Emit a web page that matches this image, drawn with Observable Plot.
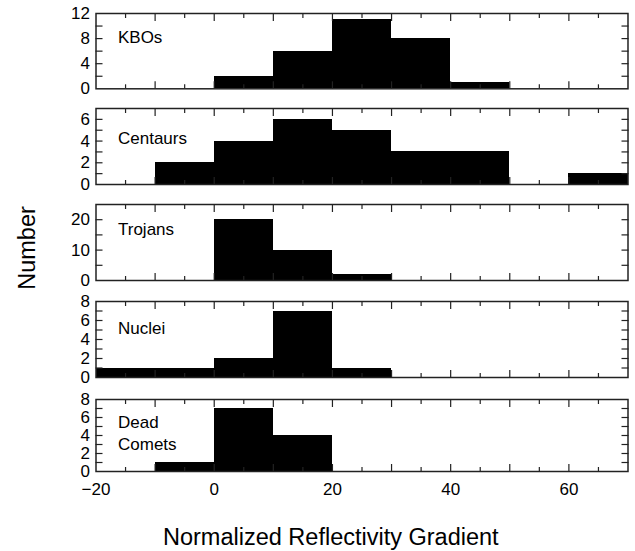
<!DOCTYPE html>
<html><head><meta charset="utf-8">
<script src="https://cdn.jsdelivr.net/npm/d3@7"></script>
<script src="https://cdn.jsdelivr.net/npm/@observablehq/plot@0.6"></script>
<style>
body{margin:0;background:#fff;}
#chart{position:relative;width:635px;height:551px;font-family:"Liberation Sans",Arial,sans-serif;color:#000;}
#chart svg{position:absolute;left:0;}
.title{position:absolute;font-size:23.5px;line-height:24px;white-space:nowrap;color:#000;}
</style></head><body><div id="chart"></div>
<script>
// ---- data ----
const binStarts = [-20, -10, 0, 10, 20, 30, 40, 50, 60];
const binWidth = 10;
const kbos       = [0, 0, 2, 6, 11, 8, 1, 0, 0];
const centaurs   = [0, 2, 4, 6, 5, 3, 3, 0, 1];
const trojans    = [0, 0, 20, 10, 2, 0, 0, 0, 0];
const nuclei     = [1, 1, 2, 7, 1, 0, 0, 0, 0];
const deadComets = [0, 1, 7, 4, 0, 0, 0, 0, 0];
const panelNames = ["KBOs", "Centaurs", "Trojans", "Nuclei", "Dead\nComets"];
const panelCounts = [kbos, centaurs, trojans, nuclei, deadComets];
const yMax = [12, 7, 25, 8, 8];
const yLabelTicks = [[0, 4, 8, 12], [0, 2, 4, 6], [0, 10, 20], [0, 2, 4, 6, 8], [0, 2, 4, 6, 8]];
const yMinorTicks = [[2, 4, 6, 8, 10], [1, 2, 3, 4, 5, 6], [5, 10, 15, 20], [1, 2, 3, 4, 5, 6, 7], [1, 2, 3, 4, 5, 6, 7]];
const xLabelTicks = [-20, 0, 20, 40, 60];
const xMajorTicks = [-10, 0, 10, 20, 30, 40, 50, 60];
const xMinorTicks = [-15, -5, 5, 15, 25, 35, 45, 55, 65];
const xTitle = "Normalized Reflectivity Gradient";
const yTitle = "Number";

// ---- layout ----
const frameTop = [12.7, 108, 204, 301, 399];
const frameH = [75.3, 76, 76, 76, 72];
const labelDy = [22, 28, 23, 25, 32];
const ink = "#222";
const fs = 17;
const fmt = d => d < 0 ? "\u2212" + (-d) : String(d);

const chart = document.getElementById("chart");
panelCounts.forEach((counts, i) => {
  const rows = binStarts.map((s, j) => ({x1: s, x2: s + binWidth, count: counts[j]})).filter(d => d.count > 0);
  const last = i === panelCounts.length - 1;
  const mt = 10, mb = last ? 40 : 10;
  const tickOpts = {tickFormat: () => "", label: null, stroke: ink, strokeWidth: 1.2};
  const svg = Plot.plot({
    width: 635, height: frameH[i] + mt + mb,
    marginLeft: 95.5, marginRight: 7.5, marginTop: mt, marginBottom: mb,
    style: {fontFamily: '"Liberation Sans", Arial, sans-serif', fontSize: fs + "px", color: "#000", background: "transparent", overflow: "visible"},
    x: {domain: [-20, 70]},
    y: {domain: [0, yMax[i]]},
    marks: [
      Plot.rectY(rows, {x1: "x1", x2: "x2", y: "count", fill: "#000", shapeRendering: "crispEdges"}),
      Plot.axisY({...tickOpts, ticks: yMinorTicks[i], anchor: "left", tickSize: 7, dx: 7}),
      Plot.axisY({...tickOpts, ticks: yMinorTicks[i], anchor: "right", tickSize: 7, dx: -7}),
      Plot.axisY({ticks: yLabelTicks[i], anchor: "left", tickSize: 0, tickPadding: 6, label: null, tickFormat: fmt, fontSize: fs, fill: "#000"}),
      Plot.axisX({...tickOpts, ticks: xMajorTicks, anchor: "top", tickSize: 7, dy: 7}),
      Plot.axisX({...tickOpts, ticks: xMinorTicks, anchor: "top", tickSize: 4, dy: 4}),
      Plot.axisX({...tickOpts, ticks: xMajorTicks, anchor: "bottom", tickSize: 7, dy: -7}),
      Plot.axisX({...tickOpts, ticks: xMinorTicks, anchor: "bottom", tickSize: 4, dy: -4}),
      last ? Plot.axisX({ticks: xLabelTicks, anchor: "bottom", tickSize: 0, tickPadding: 11, label: null, tickFormat: fmt, fontSize: fs, fill: "#000"}) : null,
      Plot.frame({stroke: ink, strokeWidth: 1.5}),
      Plot.text([panelNames[i]], {frameAnchor: "top-left", dx: 22, dy: labelDy[i], lineAnchor: "middle", textAnchor: "start", fontSize: fs, fill: "#000", lineHeight: 1.3})
    ]
  });
  svg.style.top = (frameTop[i] - mt) + "px";
  chart.appendChild(svg);
});

const xt = document.createElement("div");
xt.className = "title";
xt.textContent = xTitle;
chart.appendChild(xt);
xt.style.left = (331 - xt.offsetWidth / 2) + "px";
xt.style.top = "525px";

const yt = document.createElement("div");
yt.className = "title";
yt.textContent = yTitle;
chart.appendChild(yt);
yt.style.left = (27 - yt.offsetWidth / 2) + "px";
yt.style.top = (248 - 12) + "px";
yt.style.transform = "rotate(-90deg)";
</script></body></html>
